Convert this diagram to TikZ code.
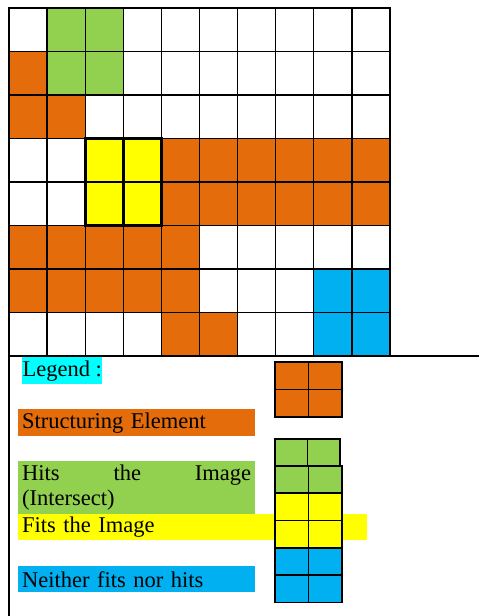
\documentclass[tikz,border=0pt]{standalone}
\usepackage{fontspec}
\setmainfont{Liberation Serif}
\usetikzlibrary{positioning}
\definecolor{seOrange}{RGB}{228,108,10}
\definecolor{hitGreen}{RGB}{146,208,80}
\definecolor{fitYellow}{RGB}{255,255,0}
\definecolor{missBlue}{RGB}{0,176,240}
\definecolor{legCyan}{RGB}{0,255,255}
\newcommand{\cellW}{38.1}
\newcommand{\cellH}{43.5}
\tikzset{
  gridline/.style={line width=1.3pt, draw=black, line cap=rect},
  fitline/.style={line width=2.7pt, draw=black, line cap=rect},
  keycell/.style={draw=black, line width=1.3pt, minimum height=27.5pt, inner sep=0pt,
                  outer sep=0pt, anchor=north west},
  legbox/.style={anchor=north west, inner xsep=4pt, inner ysep=0pt, align=left,
                 font=\fontsize{22.5}{25}\selectfont}
}
\begin{document}
\begin{tikzpicture}[x=1pt, y=-1pt]
\useasboundingbox (0,0) rectangle (479,616);
% image cells
\foreach \c/\r in {1/0,2/0,1/1,2/1}
  \fill[hitGreen] ({9+\c*\cellW},{8+\r*\cellH}) rectangle ++(\cellW,\cellH);
\foreach \c/\r in {0/1,0/2,1/2,4/7,5/7}
  \fill[seOrange] ({9+\c*\cellW},{8+\r*\cellH}) rectangle ++(\cellW,\cellH);
\foreach \r in {3,4} \foreach \c in {4,...,9}
  \fill[seOrange] ({9+\c*\cellW},{8+\r*\cellH}) rectangle ++(\cellW,\cellH);
\foreach \r in {5,6} \foreach \c in {0,...,4}
  \fill[seOrange] ({9+\c*\cellW},{8+\r*\cellH}) rectangle ++(\cellW,\cellH);
\foreach \c/\r in {2/3,3/3,2/4,3/4}
  \fill[fitYellow] ({9+\c*\cellW},{8+\r*\cellH}) rectangle ++(\cellW,\cellH);
\foreach \c/\r in {8/6,9/6,8/7,9/7}
  \fill[missBlue] ({9+\c*\cellW},{8+\r*\cellH}) rectangle ++(\cellW,\cellH);
% grid lines
\foreach \c in {0,...,10} \draw[gridline] ({9+\c*\cellW},8) -- ({9+\c*\cellW},356);
\foreach \r in {0,...,7} \draw[gridline] (9,{8+\r*\cellH}) -- (390,{8+\r*\cellH});
\draw[gridline] (9,356) -- (479,356);
\draw[gridline] (9,356) -- (9,616);
% structuring element that fits
\draw[fitline] ({9+2*\cellW},{8+3*\cellH}) rectangle ({9+4*\cellW},{8+5*\cellH});
\draw[fitline] ({9+3*\cellW},{8+3*\cellH}) -- ({9+3*\cellW},{8+5*\cellH});
\draw[fitline] ({9+2*\cellW},{8+4*\cellH}) -- ({9+4*\cellW},{8+4*\cellH});
% legend
\node[legbox, fill=legCyan, inner xsep=0pt, minimum width=80pt, minimum height=27pt] (legTitle) at (22,357) {Legend :};
\node[legbox, fill=seOrange, text width=229pt, minimum height=27pt] (legSE) at (18,409) {Structuring Element};
\node[legbox, fill=hitGreen, text width=229pt, minimum height=53pt] (legHit) at (18,461) {Hits\hfill the\hfill Image\\(Intersect)};
\node[legbox, fill=fitYellow, text width=341pt, minimum height=26pt] (legFit) at (18,514) {Fits the Image};
\node[legbox, fill=missBlue, text width=229pt, minimum height=26pt] (legMiss) at (18,566) {Neither fits nor hits};
\foreach \y/\c/\w/\n in {362/seOrange/33.5/kA, 389.5/seOrange/33.5/kB, 439/hitGreen/32.5/kC,
                         466/hitGreen/33.5/kD, 493/fitYellow/33.5/kE, 520.5/fitYellow/33.5/kF,
                         548/missBlue/33.5/kG, 575/missBlue/33.5/kH} {
  \node[keycell, fill=\c, minimum width=\w pt] (\n L) at (275,\y) {};
  \node[keycell, fill=\c, minimum width=\w pt, right=0pt of \n L] (\n R) {};
}
\end{tikzpicture}
\end{document}
